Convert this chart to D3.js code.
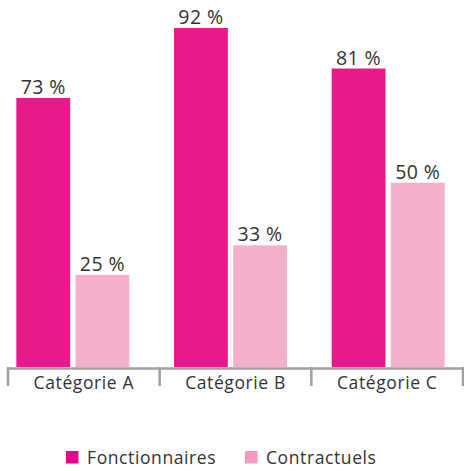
<!DOCTYPE html>
<html>
<head>
<meta charset="utf-8">
<script src="https://cdn.jsdelivr.net/npm/d3@7"></script>
<style>
  body { margin: 0; background: #fff; }
  text { font-family: "Open Sans", Lato, sans-serif; fill: #333; }
</style>
</head>
<body>
<div id="chart"></div>
<script>
// DATA
const categories = ["Catégorie A", "Catégorie B", "Catégorie C"];
const seriesNames = ["Fonctionnaires", "Contractuels"];
const fonctionnaires = [73, 92, 81];
const contractuels = [25, 33, 50];

const barColors = ["#e8198b", "#f4afcb"];
const legendColors = ["#ec008c", "#f49ac1"];

const width = 464, height = 471;
const baseline = 367;

const svg = d3.select("#chart")
  .append("svg")
  .attr("width", width)
  .attr("height", height);

// rows for grouped bars
const rows = categories.map((c, i) => ({
  cat: c,
  values: [
    { key: seriesNames[0], value: fonctionnaires[i] },
    { key: seriesNames[1], value: contractuels[i] },
  ],
}));

// axis scale (ticks / labels)
const xAxisScale = d3.scaleBand().domain(categories).range([8, 463]);

// bar group scale
const x0 = d3.scaleBand().domain(categories).range([-6, 467]);
const x1 = d3.scaleBand()
  .domain(seriesNames)
  .range([(x0.bandwidth() - 113) / 2, (x0.bandwidth() + 113) / 2])
  .paddingInner(0.09);

const y = d3.scaleLinear().domain([0, 100]).range([baseline, -1.5]);

const color = d3.scaleOrdinal().domain(seriesNames).range(barColors);

// BARS
const groups = svg.selectAll(".group")
  .data(rows)
  .enter()
  .append("g")
  .attr("class", "group")
  .attr("transform", (d) => `translate(${x0(d.cat)},0)`);

groups.selectAll("rect")
  .data((d) => d.values)
  .enter()
  .append("rect")
  .attr("x", (d) => x1(d.key))
  .attr("y", (d) => y(d.value))
  .attr("width", x1.bandwidth())
  .attr("height", (d) => y(0) - y(d.value))
  .attr("fill", (d) => color(d.key));

// VALUE LABELS
groups.selectAll("text.value")
  .data((d) => d.values)
  .enter()
  .append("text")
  .attr("class", "value")
  .attr("x", (d) => x1(d.key) + x1.bandwidth() / 2)
  .attr("y", (d) => y(d.value) - 4)
  .attr("text-anchor", "middle")
  .style("font-size", "19.5px")
  .style("letter-spacing", "0.4px")
  .text((d) => `${d.value} %`);

// AXIS
const axis = svg.append("g").attr("class", "axis");

axis.append("line")
  .attr("x1", xAxisScale.range()[0])
  .attr("x2", xAxisScale.range()[1])
  .attr("y1", baseline + 1.5)
  .attr("y2", baseline + 1.5)
  .attr("stroke", "#a0a0a0")
  .attr("stroke-width", 2.5);

const boundaries = categories.map((c) => xAxisScale(c)).concat([xAxisScale.range()[1]]);
axis.selectAll("line.tick")
  .data(boundaries)
  .enter()
  .append("line")
  .attr("class", "tick")
  .attr("x1", (d) => d)
  .attr("x2", (d) => d)
  .attr("y1", baseline)
  .attr("y2", baseline + 19)
  .attr("stroke", "#a0a0a0")
  .attr("stroke-width", 2.5);

axis.selectAll("text.cat")
  .data(categories)
  .enter()
  .append("text")
  .attr("class", "cat")
  .attr("x", (d) => xAxisScale(d) + xAxisScale.bandwidth() / 2)
  .attr("y", baseline + 22)
  .attr("text-anchor", "middle")
  .style("font-size", "17.5px")
  .style("letter-spacing", "0.6px")
  .text((d) => d);

// LEGEND
const legendX = d3.scaleOrdinal().domain(seriesNames).range([66, 245]);
const legend = svg.append("g").attr("class", "legend");

const items = legend.selectAll("g")
  .data(seriesNames)
  .enter()
  .append("g")
  .attr("transform", (d) => `translate(${legendX(d)},451)`);

items.append("rect")
  .attr("width", 12.5)
  .attr("height", 12.5)
  .attr("fill", (d, i) => legendColors[i]);

items.append("text")
  .attr("x", 21)
  .attr("y", 12.5)
  .style("font-size", "17.5px")
  .style("letter-spacing", "0.6px")
  .text((d) => d);
</script>
</body>
</html>
